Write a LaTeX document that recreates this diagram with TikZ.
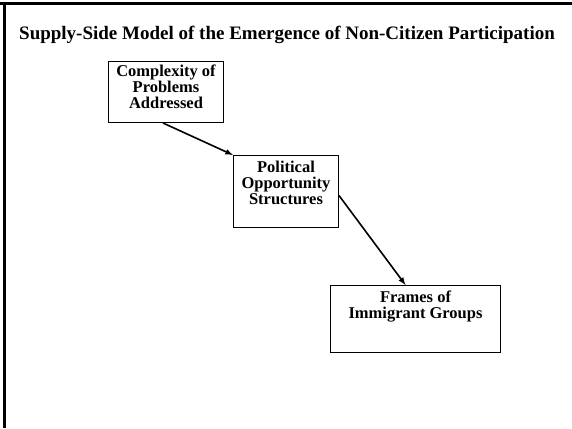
\documentclass[tikz,border=0pt]{standalone}
\usepackage{fontspec}
\setmainfont{Liberation Serif}
\usetikzlibrary{positioning}
\begin{document}
\begin{tikzpicture}[x=1pt,y=-1pt,
    box/.style={draw,line width=1pt,inner sep=0pt},
    boxtext/.style={font=\bfseries\fontsize{16.5}{16}\selectfont,align=center,inner sep=0pt,anchor=north},
    link/.style={->,>=latex,line width=1.6pt}]
    \useasboundingbox (0,0) rectangle (572,428);
    % frame and title
    \draw[line width=3pt] (0,4) -- (572,4);
    \draw[line width=3pt] (4,4) -- (4,428);
    \node[anchor=west,font=\bfseries\fontsize{19}{22}\selectfont,inner sep=0pt] (title) at (19,35) {Supply-Side Model of the Emergence of Non-Citizen Participation};
    % boxes
    \node[box,minimum width=115,minimum height=61,anchor=north west] (complex) at (108,61) {};
    \node[box,minimum width=105,minimum height=72,anchor=north west] (pos) at (233,155) {};
    \node[box,minimum width=170,minimum height=67,anchor=north west] (frames) at (330,285) {};
    \node[boxtext] (complexT) at ([yshift=-4pt]complex.north) {Complexity of\\Problems\\Addressed};
    \node[boxtext] (posT) at ([yshift=-6pt]pos.north) {Political\\Opportunity\\Structures};
    \node[boxtext] (framesT) at ([yshift=-6pt]frames.north) {Frames of\\Immigrant Groups};
    % arrows
    \draw[link] ([xshift=-3pt]complex.south) -- (pos.north west);
    \draw[link] ([yshift=-4pt]pos.east) -- ([xshift=-10pt]frames.north);
\end{tikzpicture}
\end{document}
